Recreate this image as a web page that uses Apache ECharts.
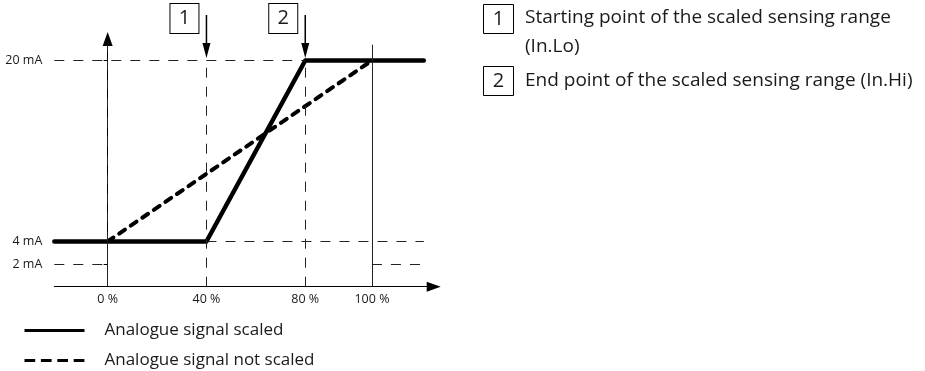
<!DOCTYPE html>
<html><head><meta charset="utf-8">
<script src="https://cdn.jsdelivr.net/npm/echarts@6/dist/echarts.min.js"></script>
<style>html,body{margin:0;padding:0;background:#fff}#c{width:925px;height:371px}</style>
</head><body><div id="c"></div>
<script>
// x values are in the schematic's own axis units (the reference places 100 % further right than linear)
const xTickValues = [0, 40, 80, 107];
const xTickLabels = ['0 %', '40 %', '80 %', '100 %'];
const yTickValues = [2, 4, 20];
const yTickLabels = ['2 mA', '4 mA', '20 mA'];
const scaledX = [-21.6, 40, 80, 128];
const scaledY = [4, 4, 20, 20];
const notScaledX = [0, 107];
const notScaledY = [4, 20];
const seriesNames = ['Analogue signal scaled', 'Analogue signal not scaled'];
const markerX = [40, 80];
const markerLabels = ['1', '2'];
const noteLines = [['Starting point of the scaled sensing range', '(In.Lo)'], ['End point of the scaled sensing range (In.Hi)']];

const X_MIN = -21.6, X_MAX = 132, Y_MIN = 0, Y_MAX = 21.9;
const GUIDE_TOP = 21.4, GUIDE_RIGHT = 128;
const FONT = 'Open Sans';
const TEXT = '#1a1a1a';

const thin = (type) => ({ color: '#222', width: 1, type: type });
const seg = (x1, y1, x2, y2, type) => [{ coord: [x1, y1], lineStyle: thin(type) }, { coord: [x2, y2] }];
const DASH = [10, 9];

const guides = [
  seg(xTickValues[0], yTickValues[1], xTickValues[0], GUIDE_TOP, DASH),
  seg(xTickValues[0], Y_MIN, xTickValues[0], yTickValues[1], 'solid'),
  seg(xTickValues[1], Y_MIN, xTickValues[1], yTickValues[2], DASH),
  seg(xTickValues[2], Y_MIN, xTickValues[2], yTickValues[2], DASH),
  seg(xTickValues[3], Y_MIN, xTickValues[3], GUIDE_TOP, 'solid'),
  seg(X_MIN, yTickValues[2], xTickValues[2], yTickValues[2], DASH),
  seg(xTickValues[1], yTickValues[1], GUIDE_RIGHT, yTickValues[1], DASH),
  seg(X_MIN, yTickValues[0], xTickValues[0], yTickValues[0], DASH),
  seg(xTickValues[3], yTickValues[0], GUIDE_RIGHT, yTickValues[0], DASH)
];

const ARROW_PATH = 'path://M3.25,0 L4.75,0 L4.75,28 L8,28 L4,43 L0,28 L3.25,28 Z';
const markerPoints = [];
markerX.forEach((x, i) => {
  markerPoints.push({
    coord: [x, yTickValues[2]], value: markerLabels[i],
    symbol: 'rect', symbolSize: [29, 30], symbolOffset: [-22, -42],
    itemStyle: { color: '#fff', borderColor: '#000', borderWidth: 1 },
    label: { show: true, position: 'inside', formatter: markerLabels[i], fontSize: 20, color: TEXT, fontFamily: FONT }
  });
  markerPoints.push({
    coord: [x, yTickValues[2]], value: '',
    symbol: ARROW_PATH, symbolSize: [8, 43], symbolOffset: [0, -24], symbolKeepAspect: false,
    itemStyle: { color: '#000', borderWidth: 0 },
    label: { show: false }
  });
});

const legendBase = {
  orient: 'vertical', left: 23, padding: 0,
  itemWidth: 60, itemHeight: 14,
  itemStyle: { opacity: 0 },
  textStyle: { fontFamily: FONT, fontSize: 17, color: TEXT, padding: [0, 0, 0, 15] }
};
const legendLineStyles = [
  { width: 3, type: 'solid', cap: 'butt' },
  { width: 3, type: [10.7, 5.7], cap: 'butt' }
];
const legendTops = [322, 352];

const chart = echarts.init(document.getElementById('c'), null, { renderer: 'canvas' });
chart.setOption({
  animation: false,
  backgroundColor: '#fff',
  textStyle: { fontFamily: FONT },
  grid: { left: 54.3, right: 925 - 433.7, top: 39, bottom: 371 - 286.7, outerBoundsMode: 'none' },
  legend: seriesNames.map((n, i) => Object.assign({}, legendBase, {
    top: legendTops[i],
    data: [{ name: n, lineStyle: legendLineStyles[i] }]
  })),
  xAxis: {
    type: 'value', min: X_MIN, max: X_MAX,
    splitLine: { show: false },
    axisTick: { show: false },
    axisLine: { show: true, symbol: ['none', 'triangle'], symbolSize: [10, 14], lineStyle: { color: '#000', width: 1 } },
    axisLabel: {
      customValues: xTickValues, margin: 6, fontSize: 12.5, color: TEXT, fontFamily: FONT,
      formatter: v => { const i = xTickValues.indexOf(v); return i >= 0 ? xTickLabels[i] : ''; }
    }
  },
  yAxis: {
    type: 'value', min: Y_MIN, max: Y_MAX,
    splitLine: { show: false },
    axisTick: { show: true, customValues: yTickValues, length: 4, lineStyle: { color: '#000' } },
    axisLine: { show: true, symbol: ['none', 'triangle'], symbolSize: [10, 14], lineStyle: { color: '#000', width: 1 } },
    axisLabel: {
      customValues: yTickValues, margin: 12, fontSize: 12.5, color: TEXT, fontFamily: FONT,
      formatter: v => { const i = yTickValues.indexOf(v); return i >= 0 ? yTickLabels[i] : ''; }
    }
  },
  series: [
    {
      name: seriesNames[1], type: 'line', symbol: 'none', z: 3,
      itemStyle: { color: '#000' },
      data: notScaledX.map((x, i) => [x, notScaledY[i]]),
      lineStyle: { color: '#000', width: 4, type: [7, 7], cap: 'round', join: 'round' }
    },
    {
      name: seriesNames[0], type: 'line', symbol: 'none', z: 4,
      itemStyle: { color: '#000' },
      data: scaledX.map((x, i) => [x, scaledY[i]]),
      lineStyle: { color: '#000', width: 4.5, type: 'solid', cap: 'round', join: 'round' }
    },
    {
      name: 'guides', type: 'line', data: [], z: 2,
      markLine: { silent: true, symbol: 'none', animation: false, label: { show: false }, emphasis: { disabled: true }, data: guides },
      markPoint: { silent: true, animation: false, data: markerPoints }
    }
  ],
  graphic: [
    { type: 'rect', shape: { x: 483.5, y: 4.5, width: 30, height: 29 }, style: { fill: '#fff', stroke: '#000', lineWidth: 1 } },
    { type: 'text', x: 498.5, y: 19, style: { text: markerLabels[0], fontSize: 20, fontFamily: FONT, fill: TEXT, align: 'center', verticalAlign: 'middle' } },
    { type: 'text', x: 525, y: 3, style: { text: noteLines[0].join('\n'), fontSize: 19, lineHeight: 29, fontFamily: FONT, fill: TEXT } },
    { type: 'rect', shape: { x: 483.5, y: 66.5, width: 30, height: 29 }, style: { fill: '#fff', stroke: '#000', lineWidth: 1 } },
    { type: 'text', x: 498.5, y: 81, style: { text: markerLabels[1], fontSize: 20, fontFamily: FONT, fill: TEXT, align: 'center', verticalAlign: 'middle' } },
    { type: 'text', x: 525, y: 66, style: { text: noteLines[1].join('\n'), fontSize: 19, lineHeight: 29, fontFamily: FONT, fill: TEXT } }
  ]
});
</script>
</body></html>
